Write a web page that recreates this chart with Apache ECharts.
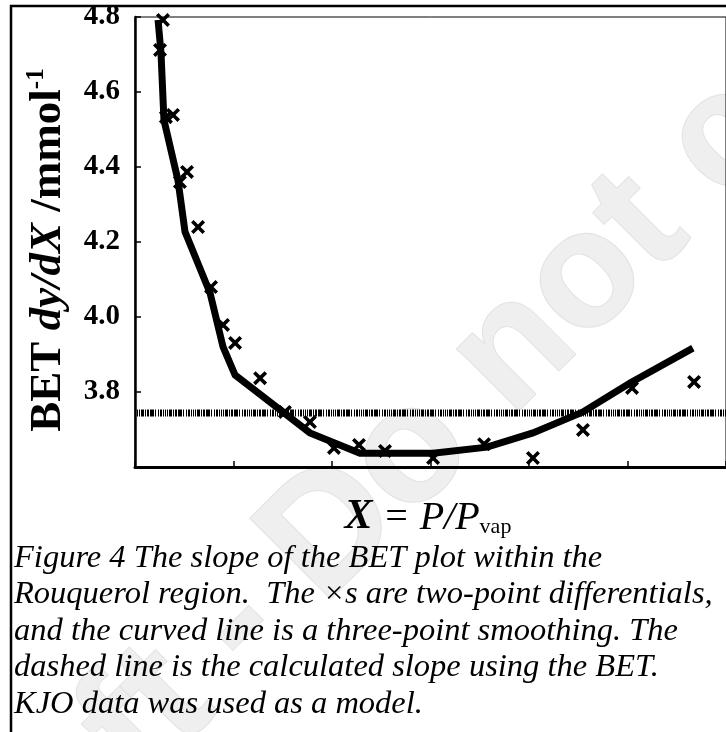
<!DOCTYPE html>
<html>
<head>
<meta charset="utf-8">
<script src="https://cdn.jsdelivr.net/npm/echarts@6/dist/echarts.min.js"></script>
<style>
  html, body { margin: 0; padding: 0; background: #fff; }
  #chart { width: 726px; height: 732px; }
</style>
</head>
<body>
<div id="chart"></div>
<script>
// two-point differentials (the x marks)
var diffX = [0.0127, 0.0142, 0.0157, 0.0193, 0.0228, 0.0264, 0.0320, 0.0386, 0.0447, 0.0508, 0.0635,
  0.0761, 0.0888, 0.1010, 0.1137, 0.1269, 0.1513, 0.1772, 0.2020, 0.2274, 0.2523, 0.2838];
var diffY = [4.712, 4.792, 4.533, 4.539, 4.360, 4.387, 4.240, 4.080, 3.979, 3.931, 3.837,
  3.747, 3.720, 3.651, 3.659, 3.643, 3.624, 3.661, 3.624, 3.699, 3.811, 3.827];
// three-point smoothing (the thick line)
var smoothX = [0.0117, 0.0132, 0.0147, 0.0218, 0.0254, 0.0381, 0.0447, 0.0508, 0.0888, 0.1142,
  0.1513, 0.1787, 0.2020, 0.2274, 0.2513, 0.2832];
var smoothY = [4.792, 4.704, 4.525, 4.365, 4.227, 4.064, 3.920, 3.845, 3.691, 3.637,
  3.637, 3.653, 3.691, 3.747, 3.824, 3.917];
// calculated BET slope (dashed line)
var betX = [0, 0.3];
var betSlope = 3.744;
var yTicks = { min: 3.6, max: 4.8, step: 0.2 };

var serif = "'Liberation Serif', 'Times New Roman', serif";
var myChart = echarts.init(document.getElementById("chart"));

function pairs(xs, ys) {
  var out = [];
  for (var i = 0; i < xs.length; i++) out.push([xs[i], ys[i]]);
  return out;
}

var option = {
  backgroundColor: "#fff",
  animation: false,
  grid: {
    left: 135,
    top: 17,
    width: 593,
    height: 450,
    show: true,
    borderColor: "#000",
    borderWidth: 1
  },
  xAxis: {
    type: "value",
    min: 0,
    max: 0.3,
    interval: 0.05,
    axisLine: { lineStyle: { color: "#000", width: 3 } },
    axisTick: { inside: true, length: 6, lineStyle: { color: "#000", width: 1.5 } },
    axisLabel: { show: false },
    splitLine: { show: false }
  },
  yAxis: {
    type: "value",
    min: yTicks.min,
    max: yTicks.max,
    interval: yTicks.step,
    axisLine: { lineStyle: { color: "#000", width: 2.5 } },
    axisTick: { inside: true, length: 6, lineStyle: { color: "#000", width: 1.5 } },
    axisLabel: {
      showMinLabel: false,
      margin: 15,
      color: "#000",
      fontFamily: serif,
      fontWeight: "bold",
      fontSize: 29,
      formatter: function (v) { return v.toFixed(1); }
    },
    splitLine: { show: false }
  },
  series: [
    {
      name: "BET slope",
      type: "line",
      data: pairs(betX, [betSlope, betSlope]),
      symbol: "none",
      lineStyle: { color: "#000", width: 7, type: [1, 1, 1, 1, 1, 1, 3, 1, 1, 1, 2, 1, 4, 1, 1, 2, 1, 1, 2, 1] },
      z: 1
    },
    {
      name: "smoothing",
      type: "line",
      data: pairs(smoothX, smoothY),
      symbol: "none",
      lineStyle: { color: "#000", width: 7, join: "miter" },
      z: 3
    },
    {
      name: "differentials",
      type: "scatter",
      data: pairs(diffX, diffY),
      symbol: "path://M0,1.8L1.8,0L5,3.2L8.2,0L10,1.8L6.8,5L10,8.2L8.2,10L5,6.8L1.8,10L0,8.2L3.2,5Z",
      symbolSize: 14,
      itemStyle: { color: "#000", opacity: 1 },
      z: 4
    }
  ],
  graphic: [
    {
      type: "text",
      z: -10,
      x: 440,
      y: 425,
      rotation: Math.PI / 4,
      silent: true,
      style: {
        text: "Draft - Do not copy",
        font: "bold 165px 'Liberation Sans', Arial, sans-serif",
        fill: "#efefef",
        stroke: "#e2e2e2",
        lineWidth: 2,
        align: "center",
        verticalAlign: "middle"
      }
    },
    {
      type: "polyline",
      shape: { points: [[11, 733], [11, 6], [727, 6]] },
      style: { stroke: "#000", lineWidth: 2.5, fill: null }
    },
    {
      // y axis title
      type: "text",
      x: 48,
      y: 250,
      rotation: Math.PI / 2,
      style: {
        text: "{b|BET }{i|dy/dX}{b| /mmol}{s|-1}",
        align: "center",
        verticalAlign: "middle",
        rich: {
          b: { font: "bold 45px " + serif, fill: "#000", lineHeight: 48 },
          i: { font: "italic bold 45px " + serif, fill: "#000", lineHeight: 48 },
          s: { font: "bold 25px " + serif, fill: "#000", verticalAlign: "top", lineHeight: 48 }
        }
      }
    },
    {
      // x axis title
      type: "text",
      x: 428,
      y: 538,
      style: {
        text: "{x|X}{t| = P/P}{s|vap}",
        align: "center",
        verticalAlign: "bottom",
        rich: {
          x: { font: "italic bold 42px " + serif, fill: "#000", verticalAlign: "bottom", lineHeight: 44 },
          t: { font: "italic 40px " + serif, fill: "#000", verticalAlign: "bottom", lineHeight: 44 },
          s: { font: "22px " + serif, fill: "#000", verticalAlign: "bottom", lineHeight: 34 }
        }
      }
    },
    {
      type: "text",
      x: 14,
      y: 540,
      style: {
        text: "Figure 4 The slope of the BET plot within the\n" +
          "Rouquerol region.  The \u00d7s are two-point differentials,\n" +
          "and the curved line is a three-point smoothing. The\n" +
          "dashed line is the calculated slope using the BET.\n" +
          "KJO data was used as a model.",
        font: "italic 32.5px " + serif,
        lineHeight: 36.5,
        fill: "#000"
      }
    }
  ]
};

myChart.setOption(option);
</script>
</body>
</html>
